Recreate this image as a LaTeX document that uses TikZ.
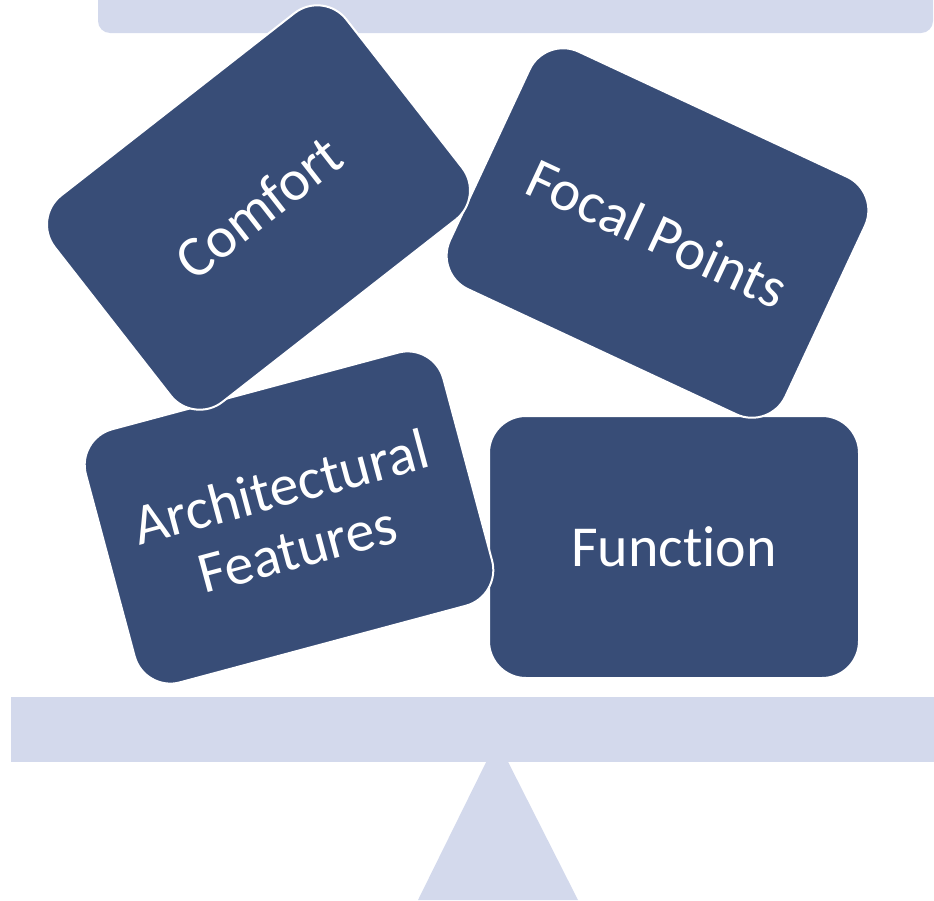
\documentclass[tikz,border=0pt]{standalone}
\usepackage{fontspec}
\setmainfont{Carlito}[Ligatures={NoCommon}, RawFeature={-liga;-clig;-dlig;-calt;-rlig}]
\definecolor{cardblue}{RGB}{56,77,119}
\definecolor{beamlight}{RGB}{211,217,236}
\newcommand{\tbreak}{t\kern0pt i}
\tikzset{
  card/.style={rectangle, rounded corners=37pt, minimum width=370pt, minimum height=262pt,
    inner sep=0pt, fill=cardblue, draw=white, line width=2pt, text=white,
    font=\fontsize{58}{64}\selectfont, align=center},
  beam/.style={fill=beamlight, draw=none}
}
\begin{document}
\begin{tikzpicture}[x=1pt,y=-1pt]
\useasboundingbox (0,0) rectangle (934,900);
\clip (0,0) rectangle (934,900);
% top beam
\fill[beam, rounded corners=12pt] (98,-40) rectangle (933,33);
% bottom beam and fulcrum
\fill[beam] (11,697) rectangle (940,762);
\fill[beam] (497,740) -- (578,900) -- (418,900) -- cycle;
% cards
\node[card] (function) at (674,547) {Func\tbreak on};
\node[card, rotate=15] (arch) at (289,517.5) {Architectural\\Features};
\node[card, rotate=-25] (focal) at (657.5,233) {Focal Points};
\node[card, rotate=38] (comfort) at (258.5,207.5) {Comfort};
\end{tikzpicture}
\end{document}
